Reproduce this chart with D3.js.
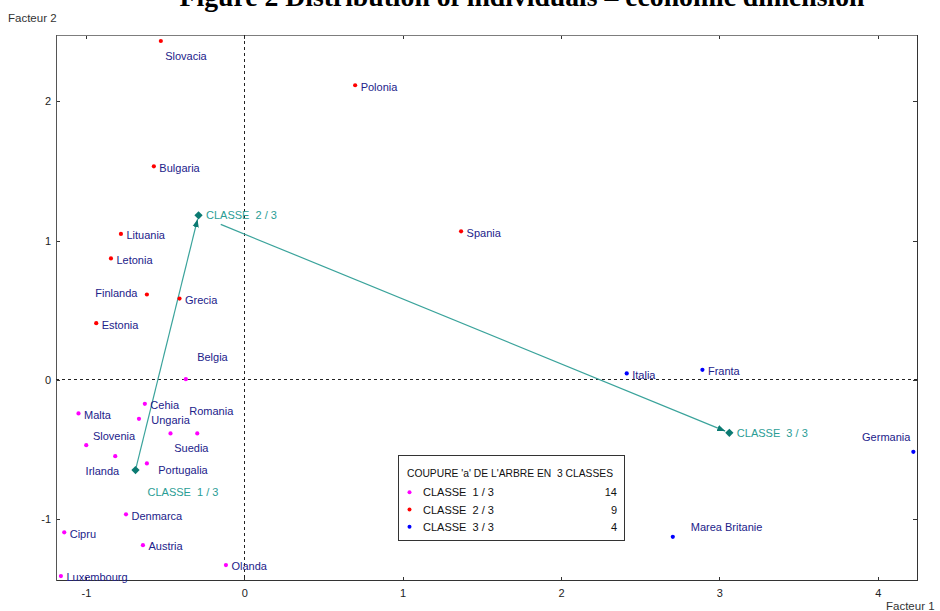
<!DOCTYPE html>
<html>
<head>
<meta charset="utf-8">
<script src="https://cdn.jsdelivr.net/npm/d3@7"></script>
<style>
  html, body { margin: 0; padding: 0; background: #fff; }
  svg { display: block; }
  text { font-family: "Liberation Sans", Arial, sans-serif; }
</style>
</head>
<body>
<svg id="chart" width="940" height="611"></svg>
<script>
// Individuals on the first factorial plane, coloured by cluster (cut of the tree into 3 classes)
const classe1Names = ["Belgia", "Cehia", "Malta", "Ungaria", "Suedia", "Romania", "Slovenia", "Irlanda", "Portugalia", "Denmarca", "Cipru", "Austria", "Olanda", "Luxembourg"];
const classe1F1 = [-0.369, -0.628, -1.047, -0.665, -0.466, -0.297, -0.998, -0.815, -0.615, -0.747, -1.137, -0.640, -0.116, -1.158];
const classe1F2 = [0.005, -0.172, -0.241, -0.280, -0.385, -0.385, -0.469, -0.548, -0.600, -0.966, -1.095, -1.187, -1.330, -1.409];

const classe2Names = ["Slovacia", "Polonia", "Bulgaria", "Lituania", "Letonia", "Finlanda", "Grecia", "Estonia", "Spania"];
const classe2F1 = [-0.527, 0.700, -0.571, -0.779, -0.842, -0.615, -0.409, -0.935, 1.369];
const classe2F2 = [2.434, 2.116, 1.534, 1.048, 0.872, 0.613, 0.584, 0.407, 1.067];

const classe3Names = ["Italia", "Franta", "Germania", "Marea Britanie"];
const classe3F1 = [2.415, 2.893, 4.225, 2.706];
const classe3F2 = [0.046, 0.072, -0.517, -1.127];

// Class centres
const centreLabels = ["CLASSE  1 / 3", "CLASSE  2 / 3", "CLASSE  3 / 3"];
const centreF1 = [-0.687, -0.289, 3.063];
const centreF2 = [-0.648, 1.182, -0.380];

// Legend
const legendTitle = "COUPURE 'a' DE L'ARBRE EN  3 CLASSES";
const legendCounts = [14, 9, 4];

// Axis ticks and titles
const xTicks = [-1, 0, 1, 2, 3, 4];
const yTicks = [-1, 0, 1, 2];
const xTitle = "Facteur 1";
const yTitle = "Facteur 2";
const chartTitle = "Figure 2 Distribution of individuals \u2013 economic dimension";

// ---- layout ----
const plot = { left: 56, right: 917, top: 35, bottom: 580.5 };
const xDomain = [-1.189, 4.248];
const yDomain = [-1.441, 2.477];

const classColors = ["#ff00ff", "#ff0000", "#0000ff"];
const labelColor = "#22228a";
const centreColor = "#0b7a72";
const arrowColor = "#3aa39b";
const centreLabelColor = "#2a9d95";

// Label placement around each point: dx/dy of the label's anchor (vertical centre) from the dot
const defaultPlacement = { dx: 5.5, dy: 1.3, anchor: "start" };
const labelPlacement = {
  "Slovacia": { dx: 4.3, dy: 15, anchor: "start" },
  "Finlanda": { dx: -9.4, dy: -1.6, anchor: "end" },
  "Belgia": { dx: 11.3, dy: -21.7, anchor: "start" },
  "Ungaria": { dx: 12.3, dy: 1.3, anchor: "start" },
  "Romania": { dx: -8, dy: -22.6, anchor: "start" },
  "Suedia": { dx: 3.7, dy: 14.4, anchor: "start" },
  "Slovenia": { dx: 6.7, dy: -9, anchor: "start" },
  "Irlanda": { dx: 4, dy: 14.7, anchor: "end" },
  "Portugalia": { dx: 11.3, dy: 6.7, anchor: "start" },
  "Germania": { dx: -3, dy: -14.4, anchor: "end" },
  "Marea Britanie": { dx: 18, dy: -9.4, anchor: "start" }
};
const centrePlacement = [
  { dx: 12, dy: 22 },
  { dx: 7.5, dy: 0 },
  { dx: 7.5, dy: 0.6 }
];

const svg = d3.select("#chart");

const x = d3.scaleLinear().domain(xDomain).range([plot.left, plot.right]);
const y = d3.scaleLinear().domain(yDomain).range([plot.bottom, plot.top]);

// Points table built from the class arrays
const classes = [
  { names: classe1Names, f1: classe1F1, f2: classe1F2 },
  { names: classe2Names, f1: classe2F1, f2: classe2F2 },
  { names: classe3Names, f1: classe3F1, f2: classe3F2 }
];
const points = [];
classes.forEach((c, ci) => c.names.forEach((n, i) => points.push({ name: n, f1: c.f1[i], f2: c.f2[i], cls: ci })));
const centres = centreLabels.map((l, i) => ({ label: l, f1: centreF1[i], f2: centreF2[i], count: legendCounts[i] }));

// Title (runs off the top edge of the page)
const title = svg.append("text")
  .attr("x", 522).attr("y", 6)
  .attr("text-anchor", "middle")
  .style("font-family", "'Liberation Serif', 'Times New Roman', serif")
  .style("font-weight", "bold")
  .style("font-size", "20px")
  .attr("fill", "#000")
  .text(chartTitle);
const tw = title.node().getComputedTextLength();
title.style("font-size", (20 * 685 / tw).toFixed(2) + "px");

// Axis titles
svg.append("text").attr("x", 8).attr("y", 22).attr("font-size", 11.5).attr("fill", "#333").text(yTitle);
svg.append("text").attr("x", 886).attr("y", 610).attr("font-size", 11.5).attr("fill", "#333").text(xTitle);

// Axes with short inner ticks on all four sides
const plain = d => String(d);
function styleAxis(g) {
  g.select(".domain").remove();
  g.selectAll(".tick line").attr("stroke", "#333").attr("shape-rendering", "crispEdges");
  g.selectAll(".tick text").attr("fill", "#222").style("font-size", "11px")
    .style("font-family", "'Liberation Sans', Arial, sans-serif");
}
svg.append("g").attr("transform", `translate(0,${plot.bottom})`)
  .call(d3.axisBottom(x).tickValues(xTicks).tickSize(-4).tickPadding(9).tickFormat(plain))
  .call(styleAxis);
svg.append("g").attr("transform", `translate(${plot.left},0)`)
  .call(d3.axisLeft(y).tickValues(yTicks).tickSize(-4).tickPadding(5).tickFormat(plain))
  .call(styleAxis);
svg.append("g").attr("transform", `translate(0,${plot.top})`)
  .call(d3.axisTop(x).tickValues(xTicks).tickSize(-4).tickFormat(""))
  .call(styleAxis);
svg.append("g").attr("transform", `translate(${plot.right},0)`)
  .call(d3.axisRight(y).tickValues(yTicks).tickSize(-4).tickFormat(""))
  .call(styleAxis);

// Frame
const frame = svg.append("g").attr("shape-rendering", "crispEdges");
frame.append("line").attr("x1", plot.left).attr("x2", plot.right).attr("y1", plot.top).attr("y2", plot.top).attr("stroke", "#7d7d7d");
frame.append("line").attr("x1", plot.right).attr("x2", plot.right).attr("y1", plot.top).attr("y2", plot.bottom).attr("stroke", "#333");
frame.append("line").attr("x1", plot.left).attr("x2", plot.right).attr("y1", plot.bottom).attr("y2", plot.bottom).attr("stroke", "#333");
frame.append("line").attr("x1", plot.left).attr("x2", plot.left).attr("y1", plot.top).attr("y2", plot.bottom).attr("stroke", "#555");

// Origin lines
const origin = svg.append("g").attr("stroke", "#222").attr("stroke-dasharray", "3,3").attr("shape-rendering", "crispEdges");
origin.append("line").attr("x1", x(0)).attr("x2", x(0)).attr("y1", plot.top).attr("y2", plot.bottom);
origin.append("line").attr("x1", plot.left).attr("x2", plot.right).attr("y1", y(0)).attr("y2", y(0));

// Arrows between class centres
svg.append("defs").append("marker")
  .attr("id", "head").attr("viewBox", "0 -4 8 8")
  .attr("refX", 8).attr("refY", 0)
  .attr("markerUnits", "userSpaceOnUse")
  .attr("markerWidth", 8).attr("markerHeight", 8)
  .attr("orient", "auto")
  .append("path").attr("d", "M0,-3.2L8,0L0,3.2Z").attr("fill", centreColor);

function arrow(a, b, startGap, endGap) {
  const ax = x(a.f1), ay = y(a.f2), bx = x(b.f1), by = y(b.f2);
  const len = Math.hypot(bx - ax, by - ay);
  const ux = (bx - ax) / len, uy = (by - ay) / len;
  svg.append("line")
    .attr("x1", ax + ux * startGap).attr("y1", ay + uy * startGap)
    .attr("x2", bx - ux * endGap).attr("y2", by - uy * endGap)
    .attr("stroke", arrowColor).attr("stroke-width", 1.2)
    .attr("marker-end", "url(#head)");
}
arrow(centres[0], centres[1], 3, 4);
arrow(centres[1], centres[2], 24, 4.5);

// Points
svg.append("g").selectAll("circle").data(points).join("circle")
  .attr("cx", d => x(d.f1)).attr("cy", d => y(d.f2)).attr("r", 2.1)
  .attr("fill", d => classColors[d.cls]);

// Point labels
svg.append("g").selectAll("text").data(points).join("text")
  .each(function (d) {
    const p = labelPlacement[d.name] || defaultPlacement;
    d3.select(this)
      .attr("x", x(d.f1) + p.dx)
      .attr("y", y(d.f2) + p.dy + 4)
      .attr("text-anchor", p.anchor);
  })
  .attr("font-size", 11).attr("fill", labelColor)
  .text(d => d.name);

// Class centres
svg.append("g").selectAll("path").data(centres).join("path")
  .attr("d", d3.symbol(d3.symbolSquare, 34))
  .attr("transform", d => `translate(${x(d.f1)},${y(d.f2)}) rotate(45)`)
  .attr("fill", centreColor);
svg.append("g").selectAll("text").data(centres).join("text")
  .attr("x", (d, i) => x(d.f1) + centrePlacement[i].dx)
  .attr("y", (d, i) => y(d.f2) + centrePlacement[i].dy + 4)
  .attr("font-size", 11).attr("fill", centreLabelColor)
  .style("white-space", "pre")
  .text(d => d.label);

// Legend
const lg = svg.append("g");
lg.append("rect").attr("x", 398.5).attr("y", 455.5).attr("width", 226).attr("height", 85)
  .attr("fill", "#fff").attr("stroke", "#333").attr("shape-rendering", "crispEdges");
lg.append("text").attr("x", 407).attr("y", 476.5).attr("font-size", 11).attr("fill", "#111")
  .attr("textLength", 206).attr("lengthAdjust", "spacingAndGlyphs")
  .style("white-space", "pre").text(legendTitle);
const rows = lg.selectAll("g.row").data(centres).join("g").attr("class", "row")
  .attr("transform", (d, i) => `translate(0,${492.3 + i * 17.2})`);
rows.append("circle").attr("cx", 409.5).attr("cy", 0).attr("r", 2).attr("fill", (d, i) => classColors[i]);
rows.append("text").attr("x", 423).attr("y", 4).attr("font-size", 11).attr("fill", "#111")
  .style("white-space", "pre").text(d => d.label);
rows.append("text").attr("x", 617).attr("y", 4).attr("text-anchor", "end").attr("font-size", 11).attr("fill", "#111")
  .text(d => d.count);
</script>
</body>
</html>
